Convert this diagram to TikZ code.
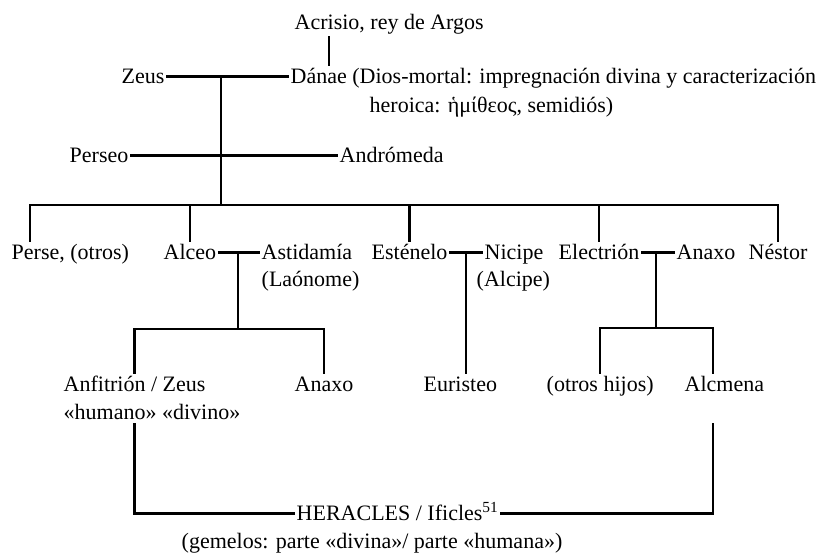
\documentclass[tikz,border=0pt]{standalone}
\usepackage{fontspec}
\setmainfont{Liberation Serif}

\begin{document}
\begin{tikzpicture}[x=1pt,y=-1pt,
    nombre/.style={anchor=base west, inner xsep=1.5pt, inner ysep=2pt,
      text height=15pt, text depth=2pt, font=\fontsize{22}{28}\selectfont},
    rama/.style={line width=2.4pt}]
  \useasboundingbox (0,0) rectangle (829,554);

  % generaciones superiores
  \node[nombre] (acrisio) at (293,29) {Acrisio, rey de Argos};
  \node[nombre] (zeus) at (120,83) {Zeus};
  \node[nombre] (danae) at (289,83) {Dánae (Dios-mortal: impregnación divina y caracterización};
  \node[nombre] (danaeb) at (368,112) {heroica: ἡμίθεος, semidiós)};
  \node[nombre] (perseo) at (68,162) {Perseo};
  \node[nombre] (andromeda) at (338,162) {Andrómeda};

  % hijos de Perseo
  \node[nombre] (perse) at (10,259) {Perse, (otros)};
  \node[nombre] (alceo) at (162,259) {Alceo};
  \node[nombre] (astidamia) at (260,259) {Astidamía};
  \node[nombre] (laonome) at (260,286) {(Laónome)};
  \node[nombre] (estenelo) at (370,259) {Esténelo};
  \node[nombre] (nicipe) at (483,259) {Nicipe};
  \node[nombre] (alcipe) at (475,286) {(Alcipe)};
  \node[nombre] (electrion) at (557,259) {Electrión};
  \node[nombre] (anaxo) at (675,259) {Anaxo};
  \node[nombre] (nestor) at (747,259) {Néstor};

  % nietos
  \node[nombre] (anfitrion) at (62,391) {Anfitrión / Zeus};
  \node[nombre] (humano) at (62,419) {«humano» «divino»};
  \node[nombre] (anaxob) at (293,391) {Anaxo};
  \node[nombre] (euristeo) at (422,391) {Euristeo};
  \node[nombre] (otros) at (545,391) {(otros hijos)};
  \node[nombre] (alcmena) at (683,391) {Alcmena};
  \node[nombre] (heracles) at (295,520) {HERACLES / Ificles\textsuperscript{51}};
  \node[nombre] (gemelos) at (180,548) {(gemelos: parte «divina»/ parte «humana»)};

  \coordinate (ac) at (329,0);
  \coordinate (j1) at (221,0);
  \coordinate (barra) at (0,205);
  \coordinate (t1) at (238,329);
  \coordinate (t2) at (466,0);
  \coordinate (t3) at (656,328);
  \coordinate (am) at (713,0);

  \draw[rama, shorten <=3pt] (ac |- acrisio.south) -- (ac |- danae.north);
  \draw[rama] (zeus.east) -- (danae.west);
  \draw[rama] (perseo.east) -- (andromeda.west);
  \draw[rama] (j1 |- zeus.east) -- (j1 |- barra);
  \draw[rama] ([xshift=20pt]perse.north west) |- (nestor.north |- barra) -- (nestor.north);
  \foreach \n in {alceo,estenelo,electrion}
    \draw[rama] (\n.north) -- (\n.north |- barra);

  \draw[rama] (alceo.east) -- (astidamia.west);
  \draw[rama] (t1 |- alceo.east) -- (t1);
  \draw[rama] (anfitrion.north) |- (t1) -| (anaxob.north);

  \draw[rama] (estenelo.east) -- (nicipe.west);
  \draw[rama] (t2 |- estenelo.east) -- (t2 |- euristeo.north);

  \draw[rama] (electrion.east) -- (anaxo.west);
  \draw[rama] (t3 |- electrion.east) -- (t3);
  \draw[rama] (otros.north) |- (t3) -| (am |- alcmena.north);

  \draw[rama] (anfitrion.north |- humano.south) |- (heracles.west);
  \draw[rama] (heracles.east) -| (am |- humano.south);
\end{tikzpicture}
\end{document}
